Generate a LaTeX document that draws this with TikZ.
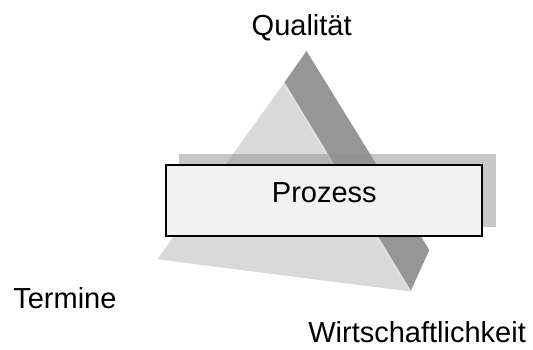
\documentclass[tikz,border=0pt]{standalone}
\usepackage{fontspec}
\setmainfont{Liberation Sans}
\definecolor{lightface}{RGB}{217,217,217}
\definecolor{darkface}{RGB}{150,150,150}
\definecolor{edgehl}{RGB}{228,228,228}
\definecolor{shadowgray}{RGB}{145,145,145}
\definecolor{boxfill}{RGB}{242,242,242}
\tikzset{
  lbl/.style={inner sep=0pt, outer sep=0pt, font=\fontsize{29}{34}\selectfont, text=black},
  procbox/.style={draw=black, line width=2pt, fill=boxfill, rectangle, inner sep=0pt,
    minimum width=316pt, minimum height=71pt},
  procshadow/.style={fill=shadowgray, fill opacity=0.5, rectangle, inner sep=0pt,
    minimum width=317pt, minimum height=73pt}
}
\begin{document}
\begin{tikzpicture}[x=1pt, y=-1pt]
  \useasboundingbox (0,0) rectangle (533,349);
  % triangle faces
  \coordinate (apexL) at (284,83);
  \coordinate (apexD) at (306.5,51);
  \coordinate (leftV) at (157.3,259.3);
  \coordinate (rightV) at (410.5,291.5);
  \coordinate (sideD) at (429.3,250);
  \fill[lightface] (apexL) -- (leftV) -- (rightV) -- cycle;
  \fill[darkface] (apexL) -- (apexD) -- (sideD) -- (rightV) -- cycle;
  \draw[edgehl, line width=1.5pt] (apexL) -- (rightV);
  % process box with its shadow
  \node[procshadow] (shadow) at (337.5,190.3) {};
  \node[procbox] (proc) at (323.8,200.7) {};
  \node[lbl, anchor=base] (proctext) at (324.3,202.3) {Prozess};
  % corner labels
  \node[lbl, anchor=base west] (qual) at (251.7,35.7) {Qualität};
  \node[lbl, anchor=base west] (term) at (13.3,308.3) {Termine};
  \node[lbl, anchor=base west] (wirt) at (308.3,342.5) {Wirtschaftlichkeit};
\end{tikzpicture}
\end{document}
